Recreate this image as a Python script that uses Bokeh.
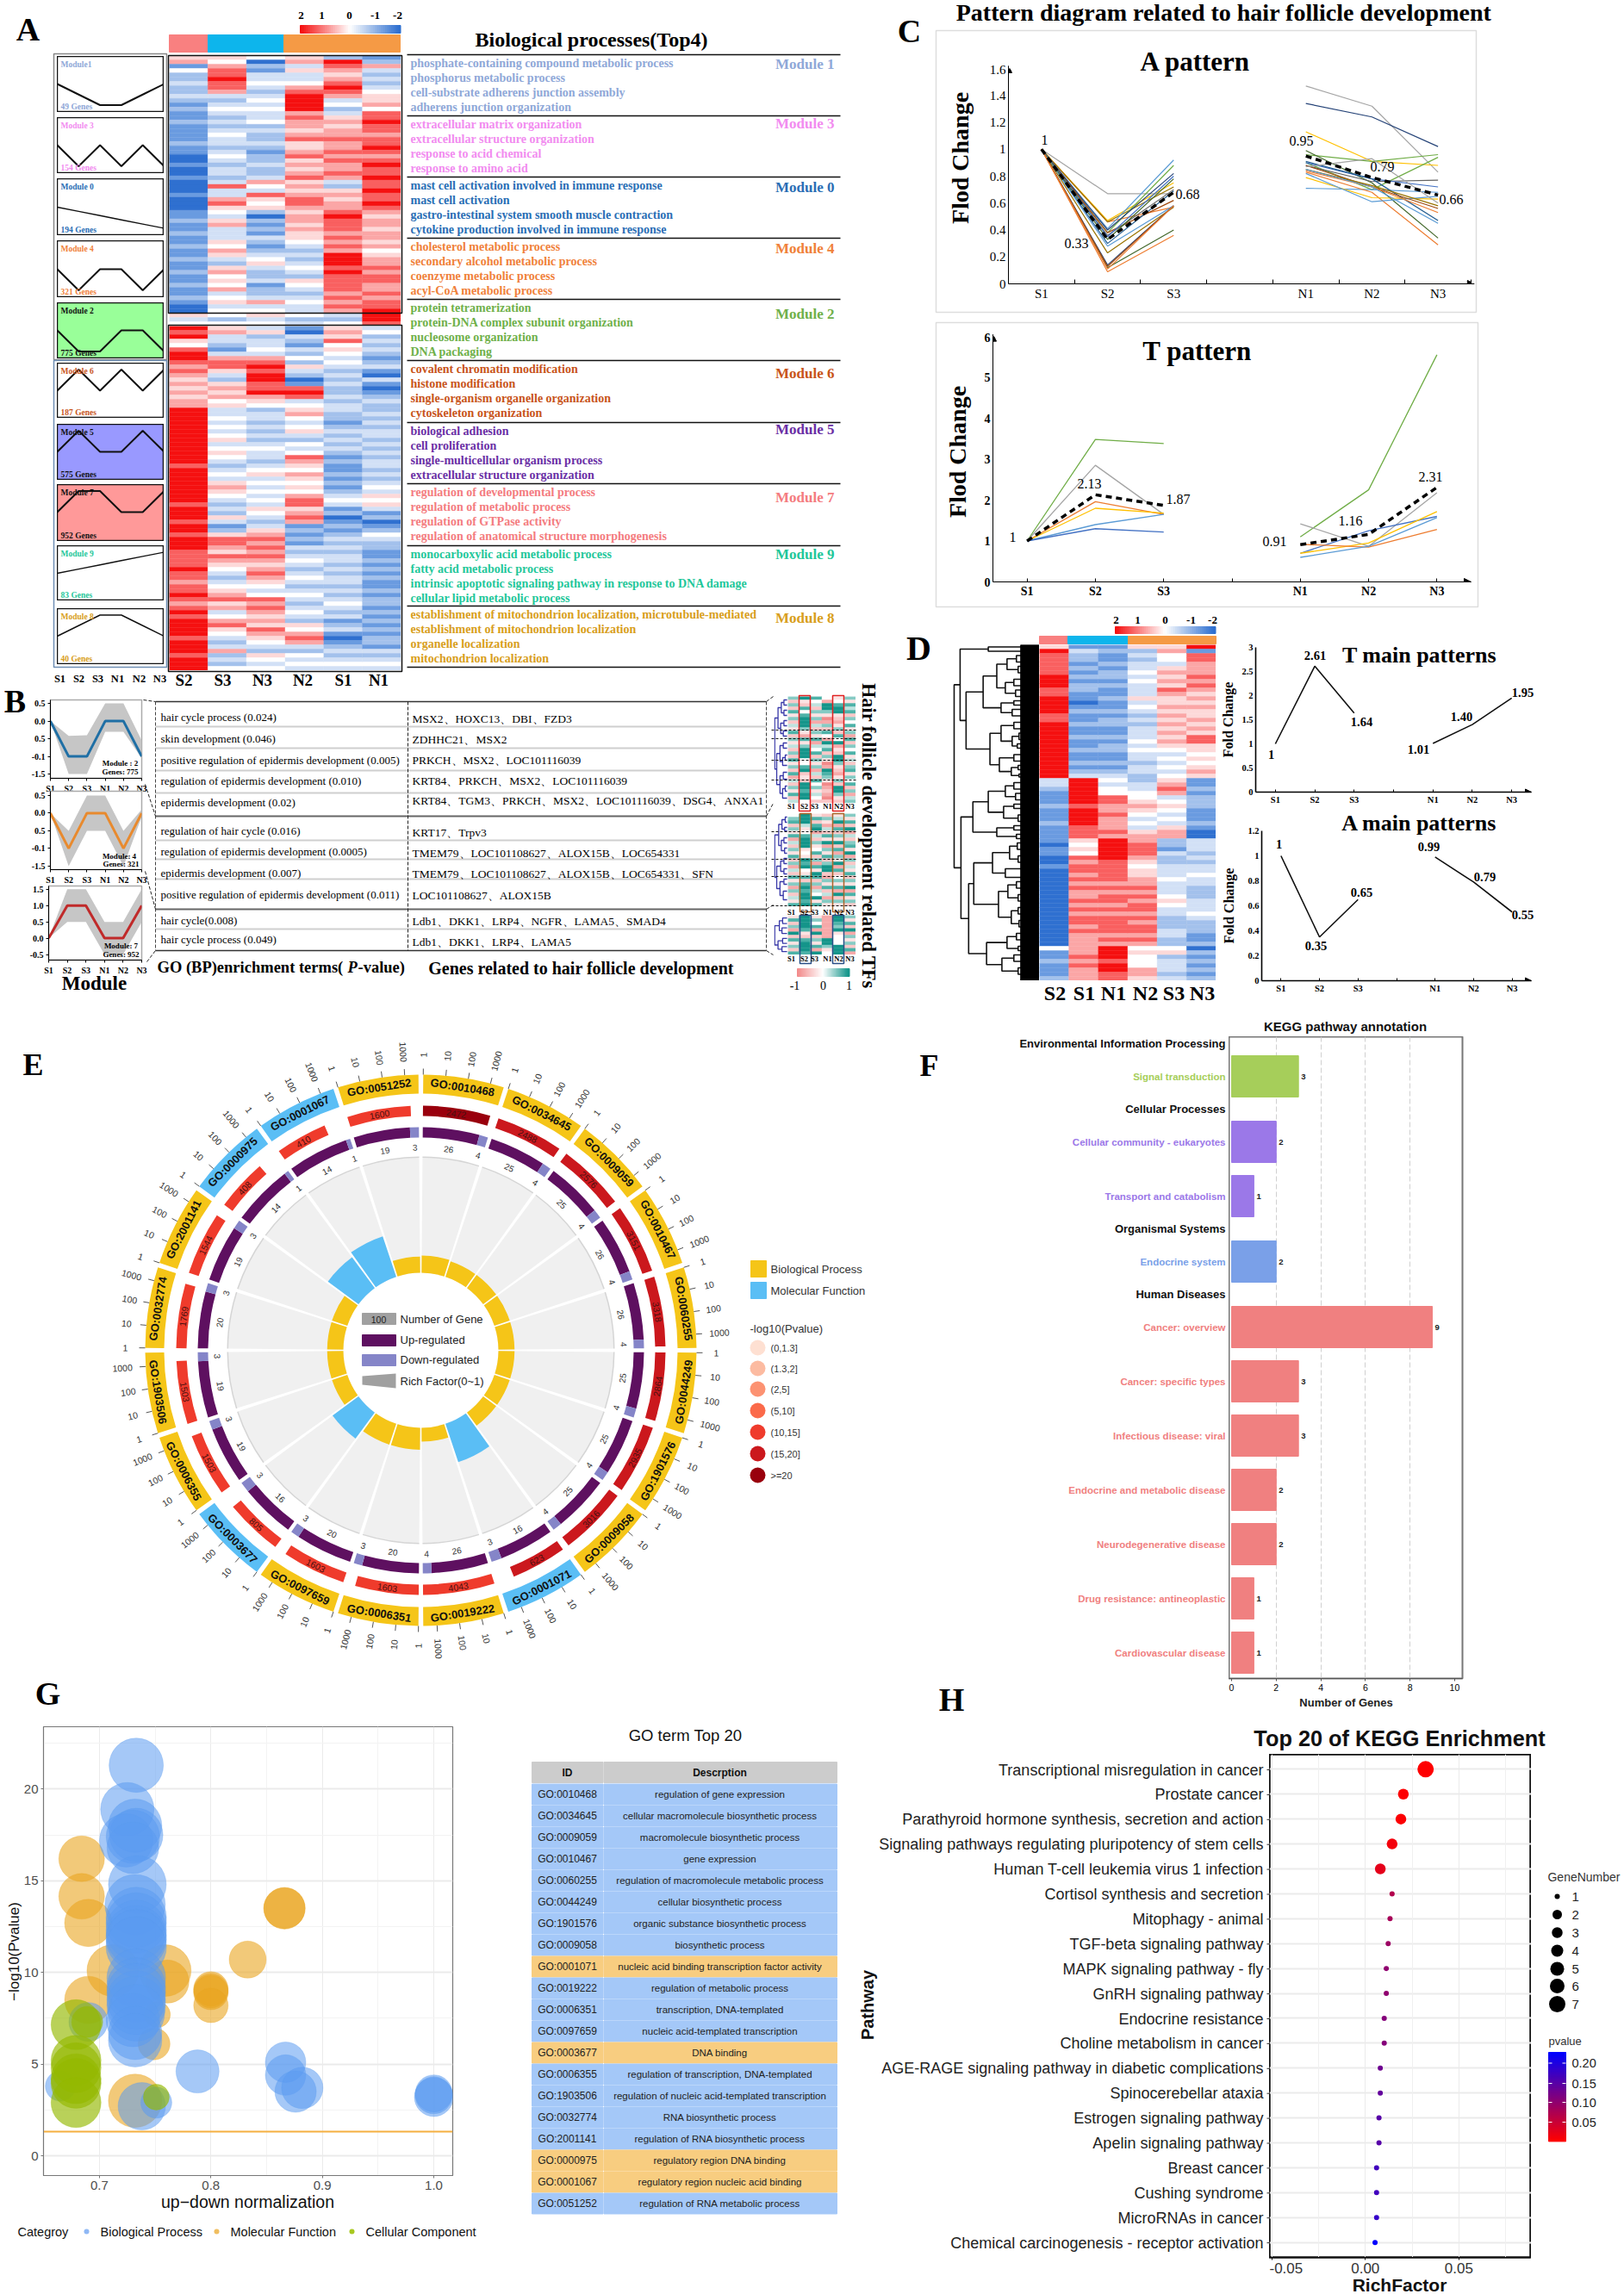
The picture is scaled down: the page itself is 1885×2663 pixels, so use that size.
import math
from bokeh.plotting import figure
from bokeh.models import (Column, LinearAxis, FixedTicker, Grid, Arrow, NormalHead, LinearColorMapper, ColumnDataSource)
from bokeh.embed import file_html
from bokeh.resources import INLINE
from bokeh.core.properties import value

SERIF = "Liberation Serif"
SANS = "Liberation Sans"

# ---------- data: panel A ----------
A_COLS = ["S2", "S3", "N3", "N2", "S1", "N1"]
A_TOP = [
 "561422322321211211112110010010001000112112112112112112112100" + "534",
 "546778776323432323433234323323733675435633354653256454634534" + "424",
 "402133432343433423223212232236437545202121321234532231223634" + "534",
 "563533467888867665675567565675656776566565543232343254323433" + "423",
 "287656787634235656676676766763256566787776767688878777767676" + "324",
 "126323234556477877677876787787787787656656656456676776676778" + "887",
]
A_BOT = [
 "8785478876765656566" + "888888888888878888888" + "8788878878887" + "777877677876787" + "888878887888",
 "56332136775325656453343434534543234356543232531257765765432345675634675432362324",
 "35233436787887786542332323234332345343434354323567676765676543476765657654325434",
 "1032132425320178734" + "5643453243" + "4765465454" + "6775676" + "12121" + "3234323432" + "34323432" + "546763" + "24343",
 "56574543432323223233221232323212112121234312012123232332323323234323123101232343",
 "3423232123103101232232323323232332323435453120124322112121211" + "2122121212122132343",
]
MODULE_IDS = ["1", "3", "0", "4", "2", "6", "5", "7", "9", "8"]
MODULE_GENES = [49, 154, 194, 321, 775, 187, 575, 952, 83, 40]
MODULE_COLORS = ["#8FA8D8", "#F28CF0", "#2A6EB5", "#F0813A", "#6FB04A", "#C8541A", "#6A2FA5", "#F47C80", "#1FC79A", "#D89E20"]
MODULE_PATTERN = [
 [0, -.5, -1, -1, -.5, 0], [0, -1, 0, -1, 0, -1], [0, -.2, -.4, -.6, -.8, -1], [0, -1, 0, 0, -1, 0], [0, -1, -1, 0, 0, -1],
 [0, 1, 0, 1, 0, 1], [0, 1, 0, 0, 1, 0], [0, 1, 1, 0, 0, 1], [0, .2, .4, .6, .8, 1], [0, .5, 1, 1, .5, 0]]
MODULE_TERMS = [
 ["phosphate-containing compound metabolic process", "phosphorus metabolic process", "cell-substrate adherens junction assembly", "adherens junction organization"],
 ["extracellular matrix organization", "extracellular structure organization", "response to acid chemical", "response to amino acid"],
 ["mast cell activation involved in immune response", "mast cell activation", "gastro-intestinal system smooth muscle contraction", "cytokine production involved in immune response"],
 ["cholesterol metabolic process", "secondary alcohol metabolic process", "coenzyme metabolic process", "acyl-CoA metabolic process"],
 ["protein tetramerization", "protein-DNA complex subunit organization", "nucleosome organization", "DNA packaging"],
 ["covalent chromatin modification", "histone modification", "single-organism organelle organization", "cytoskeleton organization"],
 ["biological adhesion", "cell proliferation", "single-multicellular organism process", "extracellular structure organization"],
 ["regulation of developmental process", "regulation of metabolic process", "regulation of GTPase activity", "regulation of anatomical structure morphogenesis"],
 ["monocarboxylic acid metabolic process", "fatty acid metabolic process", "intrinsic apoptotic signaling pathway in response to DNA damage", "cellular lipid metabolic process"],
 ["establishment of mitochondrion localization, microtubule-mediated", "establishment of mitochondrion localization", "organelle localization", "mitochondrion localization"]]

# ---------- data: panel B ----------
TIME = ["S1", "S2", "S3", "N1", "N2", "N3"]
B_MEAN = [[0, -1, -1, 0, 0, -1], [0, -1, 0, 0, -1, 0], [0, 1, 1, 0, 0, 1]]
B_HI = [[0, -.42, -.4, .5, .5, -.55], [0, -.5, .5, .5, -.5, .1], [0, 1.5, 1.5, .5, .5, 1.5]]
B_LO = [[0, -1.5, -1.5, -.3, -.3, -1.05], [0, -1.5, -.5, -.5, -1.5, -.1], [0, .5, .5, -.5, -.5, .5]]
B_COLOR = ["#1F6FA5", "#E88A2E", "#C02A2A"]
B_TERMS = ["hair cycle process (0.024)", "skin development (0.046)", "positive regulation of epidermis development (0.005)",
           "regulation of epidermis development (0.010)", "epidermis development (0.02)", "regulation of hair cycle (0.016)",
           "regulation of epidermis development (0.0005)", "epidermis development (0.007)",
           "positive regulation of epidermis development (0.011)", "hair cycle(0.008)", "hair cycle process (0.049)"]
B_GENES = ["MSX2、HOXC13、DBI、FZD3", "ZDHHC21、MSX2", "PRKCH、MSX2、LOC101116039", "KRT84、PRKCH、MSX2、LOC101116039",
           "KRT84、TGM3、PRKCH、MSX2、LOC101116039、DSG4、ANXA1", "KRT17、Trpv3", "TMEM79、LOC101108627、ALOX15B、LOC654331",
           "TMEM79、LOC101108627、ALOX15B、LOC654331、SFN", "LOC101108627、ALOX15B", "Ldb1、DKK1、LRP4、NGFR、LAMA5、SMAD4", "Ldb1、DKK1、LRP4、LAMA5"]
TF_1 = ["6262736253726352627362715263725", "8327478886317368884478232887884", "7452636152637154726361527463542",
        "4188630162741857263018763012102", "3478832136274813288632136288632", "6375726473617264735267364726156"]
TF_2 = ["467263715263726152736162537", "888534788834387843727878878", "372781526347261738726154837",
        "263152738163726882163725163", "358172638271638172463718263", "637281526738162537263817362"]
TF_3 = ["372618273627", "888873278887", "364718263718", "111111188634", "887683444888", "637281636271"]
TF_TREE1 = (1.0, (.75, (.5, (.3, 1, 2.5), (.3, 4, 5.5)), (.55, (.3, 7, 8.5), (.35, 10, 11.5))),
            (.85, (.6, (.35, 13.5, 15), (.4, (.2, 17, 18.5), 20)), (.6, (.35, 22, 24), (.4, (.2, 26, 27.5), 29.5))))
TF_TREE2 = (1.0, (.7, (.45, (.2, 1, 2.5), (.25, 4, 5)), (.5, (.3, 7, 8.5), (.25, 10, 11.5))),
            (.85, (.55, (.3, 13, 14.5), (.3, 16, 17.5)), (.6, (.3, 19, 20.5), (.35, 22.5, 25))))
TF_TREE3 = (1.0, (.65, (.4, .8, 2.5), (.45, 3.8, 5.5)), (.75, (.4, 7, 8.5), (.45, 9.5, 11)))

# ---------- data: panel C ----------
PAL = {"g": "#A5A5A5", "y": "#FFC000", "o": "#ED7D31", "ol": "#997300", "b": "#5B9BD5", "gr": "#70AD47", "n": "#264478",
       "br": "#9E480E", "dk": "#636363", "bl": "#4472C4", "tb": "#255E91", "dg": "#43682B"}
CA_S = [("g", 1, .67, .67), ("y", 1, .47, .75), ("o", 1, .46, .57), ("ol", 1, .46, .72), ("b", 1, .41, .92), ("gr", 1, .38, .88),
        ("n", 1, .40, .82), ("br", 1, .38, .62), ("dk", 1, .36, .70), ("bl", 1, .35, .80), ("tb", 1, .30, .69), ("dg", 1, .33, .78),
        ("b", 1, .28, .58), ("ol", 1, .23, .57), ("n", 1, .14, .58), ("dg", 1, .12, .40), ("br", 1, .13, .58), ("o", 1, .09, .36), ("o", 1, .11, .58)]
CA_N = [("g", 1.47, 1.32, .83), ("n", 1.34, 1.24, 1.02), ("y", 1.13, .91, .88), ("gr", .96, .91, .96), ("dg", .99, .75, .34),
        ("gr", .90, .70, .94), ("dk", .88, .76, .77), ("b", .71, .70, .68), ("bl", .90, .78, .72), ("tb", .91, .78, .47),
        ("o", .83, .68, .29), ("y", .79, .64, .63), ("b", .82, .61, .65), ("br", .88, .72, .56), ("ol", .85, .73, .58),
        ("g", .87, .93, .60), ("o", .84, .72, .53), ("b", .85, .72, .45)]
CA_MEAN = [[1, .33, .68], [.95, .79, .66]]
CT_S = [("gr", 1, 3.48, 3.38), ("g", 1, 2.85, 1.65), ("o", 1, 1.96, 1.65), ("y", 1, 1.8, 1.68), ("b", 1, 1.4, 1.65), ("bl", 1, 1.3, 1.22)]
CT_N = [("gr", 1.1, 2.25, 5.55), ("g", 1.42, .87, 2.18), ("bl", .7, 1.25, 1.6), ("y", .7, .95, 1.72), ("o", .92, .85, 1.28), ("b", .6, .87, 1.57)]
CT_MEAN = [[1, 2.13, 1.87], [.91, 1.16, 2.31]]

# ---------- data: panel D ----------
D_COLS = ["S2", "S1", "N1", "N2", "S3", "N3"]
D_HEAT = [
 "58" + "77777888778888778888888888888" + "33211121112111" + "1011001000000000000000000" + "41121112",
 "13" + "22121212211012112112112112123" + "88888878888777" + "5454767767676676767767666" + "66767666",
 "12" + "11212212112112122112122112123" + "43447766766676" + "8888877777676776767777676" + "88878877",
 "52" + "32334343335343232333434332332" + "23344565434356" + "6777654556676767767677676" + "45444665",
 "56" + "44356565765565656565654343434" + "56763454343566" + "2213223334333454332223322" + "45233323",
 "81" + "77666767656565565657755454565" + "11212221112100" + "3332323343322233343222112" + "02121212",
]
TREE_D = (1.0,
 (.93, (.6, .5, 1.5),
  (.86,
   (.66, (.5, (.38, (.27, 2.5, 4), (.25, 5, 6.5)), (.4, (.3, 8, 9.5), (.28, 10.5, 12))), (.45, (.3, 13, 14), (.32, 15, 16.5))),
   (.58, (.45, (.3, 18, 19.5), (.32, (.24, 20.5, 22), (.26, 23, 24))), (.47, (.3, 25.5, 27), (.33, (.25, 28, 29), (.24, 30, 30.7)))))),
 (.92,
  (.78, (.6, (.4, (.3, 32, 33.5), (.28, 34.5, 36)), (.42, (.3, 37, 38), (.25, 39.5, 41))), (.5, (.3, 42, 43), (.27, 44, 45))),
  (.83,
   (.77, (.55, (.35, (.26, 46, 47.5), (.25, 49, 50.5)), (.4, 52, 54)),
    (.48, (.37, (.27, 55, 56.5), (.25, 58, 59.5)), (.33, (.25, 61, 62.5), (.24, 64, 65.5)))),
   (.62, (.38, (.27, 67, 68.5), (.25, 70, 71)), (.44, (.3, 72, 73.5), (.25, 75, 76.5))))))
DT_MEAN = [[1, 2.61, 1.64], [1.01, 1.40, 1.95]]
DA_MEAN = [[1, .35, .65], [.99, .79, .55]]

# ---------- data: panel E ----------
GO_IDS = ["GO:0010468", "GO:0034645", "GO:0009059", "GO:0010467", "GO:0060255", "GO:0044249", "GO:1901576", "GO:0009058", "GO:0001071", "GO:0019222",
          "GO:0006351", "GO:0097659", "GO:0003677", "GO:0006355", "GO:1903506", "GO:0032774", "GO:2001141", "GO:0000975", "GO:0001067", "GO:0051252"]
GO_MF = [0, 0, 0, 0, 0, 0, 0, 0, 1, 0, 0, 0, 1, 0, 0, 0, 0, 1, 1, 0]
GO_COUNT = [2472, 2488, 2576, 3151, 3318, 2864, 2935, 3016, 623, 4043, 1603, 1603, 805, 1503, 1503, 1769, 1544, 408, 410, 1600]
GO_PCLASS = [6, 5, 5, 5, 5, 5, 5, 5, 5, 4, 4, 4, 4, 4, 4, 4, 4, 4, 4, 4]
GO_UP = [26, 25, 25, 26, 26, 25, 25, 25, 16, 26, 20, 20, 16, 19, 19, 20, 19, 14, 14, 19]
GO_DOWN = [4, 4, 4, 4, 4, 4, 4, 4, 3, 4, 3, 3, 3, 3, 3, 3, 3, 1, 1, 3]
GO_RICH = [.15, .14, .14, .14, .14, .14, .14, .14, .35, .12, .19, .19, .28, .14, .14, .14, .14, .33, .37, .14]
P_CLASSES = ["(0,1.3]", "(1.3,2]", "(2,5]", "(5,10]", "(10,15]", "(15,20]", ">=20"]
P_COLORS = ["#FEE0D2", "#FCBBA1", "#FC9272", "#FB6A4A", "#EF3B2C", "#CB181D", "#99000D"]

# ---------- data: panel F ----------
F_ROWS = [("Environmental Information Processing", None, 0), ("Signal transduction", 3, 1), ("Cellular Processes", None, 0),
          ("Cellular community - eukaryotes", 2, 2), ("Transport and catabolism", 1, 2), ("Organismal Systems", None, 0),
          ("Endocrine system", 2, 3), ("Human Diseases", None, 0), ("Cancer: overview", 9, 4), ("Cancer: specific types", 3, 4),
          ("Infectious disease: viral", 3, 4), ("Endocrine and metabolic disease", 2, 4), ("Neurodegenerative disease", 2, 4),
          ("Drug resistance: antineoplastic", 1, 4), ("Cardiovascular disease", 1, 4)]
F_COLORS = ["#111111", "#A6CE5A", "#9B78E8", "#7AA0E8", "#F08080"]

# ---------- data: panel G ----------
G_BP = [(.733, 21.3, 63), (.725, 18.9, 62), (.732, 18, 62), (.733, 17.5, 62), (.724, 17.2, 62), (.73, 17.4, 62), (.73, 16.8, 60), (.734, 14.8, 67), (.732, 13.7, 70),
        (.733, 13.0, 70), (.733, 12.7, 70), (.733, 12.3, 70), (.733, 12.0, 70), (.733, 11.8, 70), (.733, 11.4, 70), (.733, 9.7, 68), (.733, 9.2, 68), (.733, 8.9, 68), (.733, 8.5, 68), (.733, 8.2, 68), (.733, 7.8, 66), (.73, 7.4, 62), (.732, 6.7, 62),
        (.732, 6.3, 62), (.69, 7.3, 45), (.665, 3.8, 35), (.788, 4.6, 50), (.867, 5.1, 47), (.867, 4.4, 47), (.876, 3.5, 48), (.882, 3.7, 48),
        (1.0, 3.2, 45), (1.0, 3.4, 43), (1.0, 3.3, 43), (.738, 2.7, 55), (.751, 2.9, 36)]
G_MF = [(.684, 16.2, 53), (.684, 14.15, 53), (.69, 12.7, 55), (.866, 13.5, 48), (.866, 13.5, 48), (.833, 10.7, 43), (.712, 10.1, 60), (.759, 10.1, 60),
        (.761, 9.5, 50), (.69, 8.5, 55), (.8, 9.1, 40), (.8, 9.0, 40), (.8, 8.9, 40), (.8, 8.2, 40), (.752, 7.7, 30), (.749, 6.1, 37), (.732, 3.0, 62)]
G_CC = [(.679, 7.15, 58), (.689, 7.3, 36), (.679, 5.2, 58), (.679, 4.8, 58), (.679, 4.2, 58), (.679, 3.95, 58), (.679, 2.9, 58), (.751, 3.2, 30)]
G_TERMS = ["regulation of gene expression", "cellular macromolecule biosynthetic process", "macromolecule biosynthetic process", "gene expression",
           "regulation of macromolecule metabolic process", "cellular biosynthetic process", "organic substance biosynthetic process", "biosynthetic process",
           "nucleic acid binding transcription factor activity", "regulation of metabolic process", "transcription, DNA-templated", "nucleic acid-templated transcription",
           "DNA binding", "regulation of transcription, DNA-templated", "regulation of nucleic acid-templated transcription", "RNA biosynthetic process",
           "regulation of RNA biosynthetic process", "regulatory region DNA binding", "regulatory region nucleic acid binding", "regulation of RNA metabolic process"]

# ---------- data: panel H ----------
H_NAMES = ["Transcriptional misregulation in cancer", "Prostate cancer", "Parathyroid hormone synthesis, secretion and action",
           "Signaling pathways regulating pluripotency of stem cells", "Human T-cell leukemia virus 1 infection", "Cortisol synthesis and secretion",
           "Mitophagy - animal", "TGF-beta signaling pathway", "MAPK signaling pathway - fly", "GnRH signaling pathway", "Endocrine resistance",
           "Choline metabolism in cancer", "AGE-RAGE signaling pathway in diabetic complications", "Spinocerebellar ataxia", "Estrogen signaling pathway",
           "Apelin signaling pathway", "Breast cancer", "Cushing syndrome", "MicroRNAs in cancer", "Chemical carcinogenesis - receptor activation"]
H_RICH = [.0322, .0203, .019, .0143, .008, .0143, .0132, .0122, .0112, .0112, .0101, .0101, .008, .008, .0073, .0073, .006, .006, .006, .0052]
H_GENES = [7, 3, 3, 3, 3, 1, 1, 1, 1, 1, 1, 1, 1, 1, 1, 1, 1, 1, 1, 1]
H_P = [.003, .004, .005, .012, .025, .07, .08, .09, .1, .1, .11, .11, .13, .14, .15, .15, .17, .17, .18, .225]
H_DIAM = {1: 6, 2: 11, 3: 12.5, 4: 14, 5: 16, 6: 17, 7: 19}

# ---------- helpers ----------
children = []
def chart(x0, y0, x1, y1, xr, yr, pad=(0, 0, 0, 0), bg=None):
    l, t, r, b = pad
    p = figure(width=int(x1 - x0 + l + r), height=int(y1 - y0 + t + b), x_range=xr, y_range=yr, x_axis_type=None, y_axis_type=None,
               toolbar_location=None, output_backend="svg", min_border_left=l, min_border_right=r, min_border_top=t, min_border_bottom=b,
               background_fill_color=bg, border_fill_color=None, outline_line_color=None, frame_align=False,
               styles={"position": "absolute", "left": f"{int(x0 - l)}px", "top": f"{int(y0 - t)}px"})
    children.append(p)
    return p

def axis(p, side, ticks, labels=None, minor=None, size=12, font=SERIF, style="normal", color="#000000", tick_out=4, tick_in=0, minor_out=0, minor_in=0, line="#000000", lw=1):
    ax = LinearAxis(ticker=FixedTicker(ticks=list(ticks), minor_ticks=list(minor or [])), major_label_text_font=font, major_label_text_font_size=f"{size}px",
                    major_label_text_font_style=style, major_label_text_color=color, major_tick_out=tick_out, major_tick_in=tick_in,
                    minor_tick_out=minor_out, minor_tick_in=minor_in, axis_line_color=line, axis_line_width=lw, major_tick_line_color=line,
                    minor_tick_line_color=line, major_label_standoff=3)
    if labels is not None:
        ax.major_label_overrides = {k: v for k, v in zip(ticks, labels)}
    p.add_layout(ax, side)
    return ax

canvas = figure(width=1869, height=2647, x_range=(0, 1869), y_range=(2647, 0), x_axis_type=None, y_axis_type=None, toolbar_location=None,
                output_backend="svg", min_border=0, background_fill_color=None, border_fill_color=None, outline_line_color=None, frame_align=False,
                styles={"position": "absolute", "left": "0px", "top": "0px"})
texts = {}
def T(x, y, s, size=12, color="#000000", font=SERIF, style="normal", align="left", angle=0.0):
    k = (size, color, font, style, align, angle)
    texts.setdefault(k, ([], [], []))
    texts[k][0].append(x); texts[k][1].append(y); texts[k][2].append(s)
def R(x0, y0, x1, y1, fill=None, line=None, lw=1.0):
    canvas.quad(left=[x0], right=[x1], top=[y0], bottom=[y1], fill_color=fill, line_color=line or fill, line_width=lw, fill_alpha=1 if fill else 0)
def L(xs, ys, color="#000000", lw=1.0, dash="solid"):
    canvas.line(xs, ys, line_color=color, line_width=lw, line_dash=dash)
def edge_text(x0, y0, x1, y1, x, y, s, size, color, style="normal"):
    # a text near the page edge, in a strip of its own
    q = chart(x0, y0, x1, y1, (x0, x1), (y1, y0))
    q.text([x], [y], [s], text_font=value(SANS), text_font_size=f"{size}px", text_color=color, text_font_style=style, text_align="center", text_baseline="middle")

HEAT = ["#2F70D0", "#6A9BE0", "#A3C1EC", "#D2E0F6", "#FFFFFF", "#FDD9D9", "#FBA6A6", "#F96060", "#F51010"]
TFC = ["#F28A8A", "#F6AAAA", "#F9C8C8", "#FCE3E3", "#FFFFFF", "#BFE3DF", "#86CBC4", "#4DB2A8", "#14958A"]
def heat(p, cols, pal):
    l, r, t, b, c = [], [], [], [], []
    for i, col in enumerate(cols):
        for j, ch in enumerate(col):
            l.append(i); r.append(i + 1); t.append(j); b.append(j + 1); c.append(pal[int(ch)])
    p.quad(left=l, right=r, top=t, bottom=b, fill_color=c, line_color=c, line_width=0.4)

def tree_segs(node, xs, ys):
    if not isinstance(node, tuple):
        return node, 0.06
    h, a, b = node
    ya, ha = tree_segs(a, xs, ys)
    yb, hb = tree_segs(b, xs, ys)
    xs.append([ha, h, h, hb]); ys.append([ya, ya, yb, yb])
    return (ya + yb) / 2, h

def grad(c1, c2, t):
    a = [int(c1[i:i + 2], 16) for i in (1, 3, 5)]
    b = [int(c2[i:i + 2], 16) for i in (1, 3, 5)]
    return "#%02X%02X%02X" % tuple(int(round(a[k] + (b[k] - a[k]) * t)) for k in range(3))
def hbar_grad(x0, x1, y0, y1, stops, n=48):
    w = (x1 - x0) / n
    for i in range(n):
        t = i / (n - 1) * (len(stops) - 1)
        k = min(int(t), len(stops) - 2)
        R(x0 + i * w, y0, x0 + (i + 1) * w + .5, y1, grad(stops[k], stops[k + 1], t - k))

# ---------- panel letters ----------
for s, x, y, fs in [("A", 32, 33, 38), ("B", 17, 813, 38), ("C", 1055, 35, 38), ("D", 1066, 752, 40), ("E", 38, 1235, 36), ("F", 1078, 1236, 36), ("G", 55, 1965, 38), ("H", 1104, 1972, 38)]:
    T(x, y, s, fs, style="bold", align="center")

# ---------- panel A ----------
hbar_grad(348, 464, 29, 38, ["#F51010", "#FFFFFF", "#2F70D0"])
for s, x in [("2", 349), ("1", 373), ("0", 405), ("-1", 435), ("-2", 461)]:
    T(x, 17, s, 13, style="bold", align="center")
for x0, x1, c in [(196, 241, "#F98080"), (241, 329, "#0DB5EC"), (329, 464, "#F59A45")]:
    R(x0, 40, x1, 60, c)
p = chart(196, 64, 465, 378, (0, 6), (63, 0)); heat(p, A_TOP, HEAT)
p = chart(196, 378, 465, 778, (0, 6), (80, 0)); heat(p, A_BOT, HEAT)
R(195, 64, 466, 363, None, "#111111", 1.5)
R(195, 377, 466, 779, None, "#111111", 1.5)
for s, x in zip(A_COLS, [213, 258, 304, 351, 398, 439]):
    T(x, 789, s, 19, style="bold", align="center")
for s, x in zip(TIME, [69, 91, 113, 136, 161, 185]):
    T(x, 787, s, 12.5, style="bold", align="center")
R(62, 62, 193, 417, None, "#888888", 1.5)
R(62, 418, 193, 774, None, "#6F8FB5", 1.5)
BOX_Y = [(65, 130), (136, 201), (207, 273), (279, 345), (351, 416), (421, 485), (492, 557), (562, 628), (633, 697), (706, 771)]
ZERO_PX = [97, 168, 240, 312, 383, 453, 524, 594, 665, 738]
BOX_BG = {4: "#99FF99", 6: "#9999FF", 7: "#FF9999"}
for i, (y0, y1) in enumerate(BOX_Y):
    u = 24.5
    p = chart(66, y0, 190, y1, (0, 5), ((ZERO_PX[i] - y1) / u, (ZERO_PX[i] - y0) / u), bg=BOX_BG.get(i))
    p.outline_line_color = "#111111"; p.outline_line_width = 1.5
    p.line(list(range(6)), MODULE_PATTERN[i], line_color="#111111", line_width=2 if i in (0, 1, 3, 4, 5, 6, 7) else 1.4)
    tc = "#111111" if i in (4, 6, 7) else MODULE_COLORS[i]
    T(70, y0 + 9, ("Module" if i == 0 else "Module ") + MODULE_IDS[i], 9.5, tc, style="bold")
    T(70, y1 - 7, f"{MODULE_GENES[i]} Genes", 9.5, tc, style="bold")
T(686, 45, "Biological processes(Top4)", 24, style="bold", align="center")
LINE_Y = [63, 134, 205, 276, 347, 418, 490, 561, 633, 703, 774]
LABEL_Y = [74, 143, 217, 288, 364, 433, 498, 577, 643, 717]
for y in LINE_Y:
    L([472, 975], [y, y], "#111111", 1.5)
for i in range(10):
    for k, s in enumerate(MODULE_TERMS[i]):
        T(476, LINE_Y[i] + 10 + 17 * k, s, 14, MODULE_COLORS[i], style="bold")
    T(968, LABEL_Y[i], "Module " + MODULE_IDS[i], 17, MODULE_COLORS[i], style="bold", align="right")

# ---------- panel B ----------
B_FRAME = [(58, 812, 164, 905, (-1.62, .6)), (58, 918, 164, 1011, (-1.6, .62)), (56, 1028, 164, 1116, (-.67, 1.6))]
B_TICK = [([.5, 0, -.5, -1, -1.5], ["0.5", "0.0", "0.5", "-0.1", "-1.5"]), ([.5, 0, -.5, -1, -1.5], ["0.5", "0.0", "0.5", "-0.1", "-1.5"]), ([1.5, 1, .5, 0, -.5], ["1.5", "1.0", "0.5", "0.0", "-0.5"])]
for i, (x0, y0, x1, y1, yr) in enumerate(B_FRAME):
    p = chart(x0, y0, x1, y1, (0, 5), yr, pad=(30, 4, 8, 18))
    p.outline_line_color = "#AAAAAA"; p.outline_line_width = 1.5
    p.varea(list(range(6)), B_LO[i], B_HI[i], fill_color="#C6C6C6")
    p.line(list(range(6)), B_MEAN[i], line_color=B_COLOR[i], line_width=3)
    axis(p, "left", B_TICK[i][0], B_TICK[i][1], size=10, style="bold", tick_out=3)
    axis(p, "below", range(6), TIME, size=10, style="bold", tick_out=3)
for x, y, s in [(139, 885, "Module : 2"), (139, 895, "Genes: 775"), (138, 993, "Module: 4"), (140, 1002, "Genes: 321"), (140, 1097, "Module: 7"), (140, 1107, "Genes: 952")]:
    T(x, y, s, 9, style="bold", align="center")
T(109, 1141, "Module", 23, style="bold", align="center")
L([180, 889], [814, 814], "#333333", 1.5); L([180, 889], [1103, 1103], "#333333", 1.5)
for y in [947, 1055]:
    L([180, 889], [y, y], "#666666", 2)
for y in [843, 868, 894, 920, 975, 997, 1020, 1078]:
    L([180, 889], [y, y], "#CFCFCF", 2)
L([473, 473], [814, 1103], "#222222", 1, "4 2")
L([180, 180], [814, 1103], "#444444", 1, "4 2")
L([889, 889], [814, 1103], "#444444", 1, "4 2")
for xs, ys in [([166, 180], [812, 814]), ([168, 180], [910, 947]), ([168, 180], [1011, 1055]), ([170, 180], [1116, 1103]),
               ([889, 897], [814, 808]), ([889, 897], [947, 932]), ([889, 897], [1055, 1050]), ([889, 897], [1103, 1108])]:
    L(xs, ys, "#222222", 1, "4 2")
for s, y in zip(B_TERMS, [832, 857, 882, 906, 931, 964, 988, 1013, 1038, 1068, 1090]):
    T(186, y, s, 13)
for s, y in zip(B_GENES, [834, 858, 882, 906, 929, 966, 990, 1014, 1039, 1069, 1093]):
    T(478, y, s, 13.5)
T(182, 1122, "GO (BP)enrichment terms(", 18.5, style="bold")
T(403, 1122, "P", 18.5, style="bold italic")
T(415, 1122, "-value)", 18.5, style="bold")
T(674, 1123, "Genes related to hair follicle development", 20, style="bold", align="center")
for cols, tree, y0, y1, lab in [(TF_1, TF_TREE1, 808, 932, 935), (TF_2, TF_TREE2, 944, 1052, 1058), (TF_3, TF_TREE3, 1062, 1108, 1112)]:
    p = chart(914, y0, 993, y1, (0, 6), (len(cols[0]), 0)); heat(p, cols, TFC)
    d = chart(898, y0, 914, y1, (1.05, 0), (len(cols[0]), 0))
    xs, ys = [], []; tree_segs(tree, xs, ys)
    d.multi_line(xs, ys, line_color="#3838A8", line_width=1.3)
    for s, x in zip(TIME, [918, 933, 945, 960, 973, 986]):
        T(x, lab, s, 8.5, style="bold", align="center")
for x0, x1, y0, y1, c in [(927, 940, 807, 941, "#E02020"), (966, 979, 807, 941, "#E02020"), (928, 941, 944, 1058, "#A8662A"), (966, 979, 944, 1058, "#A8662A"),
                          (928, 941, 1062, 1118, "#2A4F86"), (966, 979, 1062, 1118, "#2A4F86")]:
    R(x0, y0, x1, y1, None, c, 1.5)
for y in [847, 857, 882, 905, 965, 997, 1017, 1051]:
    L([895, 993], [y, y], "#111111", 1.2, "3 2")
hbar_grad(925, 985, 1124, 1133, ["#F28A8A", "#FFFFFF", "#14958A"])
for s, x in [("-1", 922), ("0", 955), ("1", 985)]:
    T(x, 1143, s, 14, style="normal", align="center")
T(1008, 970, "Hair follicle development related TFs", 22.3, style="bold", align="center", angle=-math.pi / 2)

# ---------- panel C ----------
T(1420, 14, "Pattern diagram related to hair follicle development", 28, style="bold", align="center")
R(1086, 35, 1713, 362, None, "#DDDDDD", 1.5)
R(1086, 374, 1715, 704, None, "#DDDDDD", 1.5)
p = chart(1170, 79, 1707, 329, (0, 7), (0, 1.6), pad=(45, 4, 8, 30))
for group, xs in [(CA_S, [.5, 1.5, 2.5]), (CA_N, [4.5, 5.5, 6.5])]:
    for c, a, b, d in group:
        p.line(xs, [a, b, d], line_color=PAL[c], line_width=1.2)
for xs, ys in zip([[.5, 1.5, 2.5], [4.5, 5.5, 6.5]], CA_MEAN):
    p.line(xs, ys, line_color="#000000", line_width=3.5, line_dash="7 5")
axis(p, "left", [0, .2, .4, .6, .8, 1, 1.2, 1.4, 1.6], ["0", "0.2", "0.4", "0.6", "0.8", "1", "1.2", "1.4", "1.6"], size=15, tick_out=0)
axis(p, "below", [.5, 1.5, 2.5, 4.5, 5.5, 6.5], TIME, minor=range(1, 8), size=15, tick_out=0, minor_in=5)
p.add_layout(Arrow(end=NormalHead(size=8, fill_color="black", line_color="black"), x_start=0, y_start=1.5, x_end=0, y_end=1.62, line_color="black"))
p.add_layout(Arrow(end=NormalHead(size=8, fill_color="black", line_color="black"), x_start=6.9, y_start=0, x_end=7.05, y_end=0, line_color="black"))
p = chart(1152, 390, 1707, 675, (.5, 7.5), (0, 6), pad=(40, 4, 8, 30))
for group, xs in [(CT_S, [1, 2, 3]), (CT_N, [5, 6, 7])]:
    for c, a, b, d in group:
        p.line(xs, [a, b, d], line_color=PAL[c], line_width=1.3)
for xs, ys in zip([[1, 2, 3], [5, 6, 7]], CT_MEAN):
    p.line(xs, ys, line_color="#000000", line_width=3.5, line_dash="7 5")
axis(p, "left", range(7), [str(k) for k in range(7)], size=14, style="bold", tick_out=0)
axis(p, "below", [1, 2, 3, 5, 6, 7], TIME, minor=[4], size=14, style="bold", tick_out=0, tick_in=4, minor_in=4)
p.add_layout(Arrow(end=NormalHead(size=8, fill_color="black", line_color="black"), x_start=.5, y_start=5.8, x_end=.5, y_end=6.05, line_color="black"))
p.add_layout(Arrow(end=NormalHead(size=8, fill_color="black", line_color="black"), x_start=7.3, y_start=0, x_end=7.5, y_end=0, line_color="black"))
T(1391, 71, "A  pattern", 31, style="bold", align="center")
T(1393, 407, "T  pattern", 31, style="bold", align="center")
T(1114, 183, "Flod Change", 28, style="bold", align="center", angle=math.pi / 2)
T(1111, 524, "Flod Change", 28, style="bold", align="center", angle=math.pi / 2)
for s, x, y in [("1", 1212, 162), ("0.33", 1249, 282), ("0.68", 1378, 225), ("0.95", 1510, 163), ("0.79", 1604, 193), ("0.66", 1684, 231),
                ("1", 1175, 623), ("2.13", 1264, 561), ("1.87", 1367, 579), ("0.91", 1479, 628), ("1.16", 1567, 604), ("2.31", 1660, 553)]:
    T(x, y, s, 16, align="center")

# ---------- panel D ----------
hbar_grad(1294, 1410, 727, 735, ["#F51010", "#FFFFFF", "#2F70D0"])
for s, x in [("2", 1295), ("1", 1320), ("0", 1352), ("-1", 1382), ("-2", 1407)]:
    T(x, 719, s, 13, style="bold", align="center")
for x0, x1, c in [(1206, 1239, "#F98080"), (1239, 1309, "#0DB5EC"), (1309, 1411, "#F59A45")]:
    R(x0, 738, x1, 747, c)
p = chart(1206, 748, 1411, 1138, (0, 6), (78, 0)); heat(p, D_HEAT, HEAT)
d = chart(1105, 748, 1206, 1138, (1.02, 0), (78, 0))
xs, ys = [], []; tree_segs(TREE_D, xs, ys)
d.multi_line(xs, ys, line_color="#111111", line_width=1.6)
d.quad(left=[.22], right=[0], top=[0], bottom=[78], fill_color="#000000", line_color="#000000")
for s, x in zip(D_COLS, [1224, 1258, 1292, 1329, 1362, 1395]):
    T(x, 1152, s, 24, style="bold", align="center")
for yr, frame, ser, yt, ylab, zero in [((0, 3), (1457, 751, 1777, 919), DT_MEAN, [0, .5, 1, 1.5, 2, 2.5, 3], ["0", "0.5", "1", "1.5", "2", "2.5", "3"], None),
                                       ((0, 1.2), (1464, 964, 1777, 1138), DA_MEAN, [0, .2, .4, .6, .8, 1, 1.2], ["0", "0.2", "0.4", "0.6", "0.8", "1", "1.2"], None)]:
    x0, y0, x1, y1 = frame
    p = chart(x0, y0, x1, y1, (.5, 7.5), yr, pad=(30, 4, 8, 24))
    p.line([1, 2, 3], ser[0], line_color="#111111", line_width=1.6)
    p.line([5, 6, 7], ser[1], line_color="#111111", line_width=1.6)
    axis(p, "left", yt, ylab, size=10.5, style="bold", tick_out=0, lw=1.6, tick_in=0)
    axis(p, "below", [1, 2, 3, 5, 6, 7], TIME, minor=[4], size=10.5, style="bold", tick_out=0, tick_in=3, minor_in=3, lw=1.6)
    p.add_layout(Arrow(end=NormalHead(size=7, fill_color="black", line_color="black"), x_start=7.4, y_start=0, x_end=7.5, y_end=0, line_color="black"))
T(1647, 760, "T main patterns", 26, style="bold", align="center")
T(1647, 955, "A main patterns", 26, style="bold", align="center")
T(1425, 833, "Fold  Change", 16, style="bold", align="center", angle=math.pi / 2)
T(1426, 1049, "Fold  Change", 16, style="bold", align="center", angle=math.pi / 2)
for s, x, y in [("2.61", 1526, 760), ("1", 1475, 875), ("1.64", 1580, 837), ("1.01", 1646, 869), ("1.40", 1696, 831), ("1.95", 1767, 803),
                ("1", 1484, 979), ("0.35", 1527, 1097), ("0.65", 1580, 1035), ("0.99", 1658, 982), ("0.79", 1723, 1017), ("0.55", 1767, 1061)]:
    T(x, y, s, 14.5, align="center", style="bold")

# ---------- panel E ----------
E = chart(118, 1197, 858, 1937, (-370, 370), (-370, 370))
ang = lambda a: math.radians(90 - a)
N = len(GO_IDS)
A0 = [i * 18 + .5 for i in range(N)]; A1 = [(i + 1) * 18 - .5 for i in range(N)]
E.annular_wedge(0, 0, 90, 224, [ang(a) for a in A0], [ang(a) for a in A1], direction="clock", fill_color="#F0F0F0", line_color=None)
E.annular_wedge(0, 0, 223.5, 225, [ang(a) for a in A0], [ang(a) for a in A1], direction="clock", fill_color="#D5D5D5", line_color=None)
go_col = ["#5ABEF5" if m else "#F5C518" for m in GO_MF]
E.annular_wedge(0, 0, 298, 320, [ang(a) for a in A0], [ang(a) for a in A1], direction="clock", fill_color=go_col, line_color=None)
E.annular_wedge(0, 0, 90, [90 + 134 * r for r in GO_RICH], [ang(a) for a in A0], [ang(a) for a in A1], direction="clock", fill_color=go_col, line_color=None)
DEC = 3.61
red_end = [a + math.log10(v) / DEC * 17 for a, v in zip(A0, GO_COUNT)]
E.annular_wedge(0, 0, 272, 284, [ang(a) for a in A0], [ang(a) for a in red_end], direction="clock", fill_color=[P_COLORS[c] for c in GO_PCLASS], line_color=None)
up_end = [a + 17 * u / (u + d) for a, u, d in zip(A0, GO_UP, GO_DOWN)]
E.annular_wedge(0, 0, 247, 259, [ang(a) for a in A0], [ang(a) for a in up_end], direction="clock", fill_color="#5E1060", line_color=None)
E.annular_wedge(0, 0, 247, 259, [ang(a) for a in up_end], [ang(a) for a in A1], direction="clock", fill_color="#8585C8", line_color=None)
def tangent(a):
    return math.radians(180 - a) if 90 < a < 270 else math.radians(-a)
def radial(a):
    return math.radians(90 - a) if a < 180 else math.radians(270 - a)
def pol(r, a):
    return r * math.sin(math.radians(a)), r * math.cos(math.radians(a))
def Etext(r, a, s, size, color="#111111", style="normal", angle=0.0):
    x, y = pol(r, a)
    E.text([x], [y], [s], text_font=value(SANS), text_font_size=f"{size}px", text_color=color, text_font_style=style, text_align="center", text_baseline="middle", angle=angle)
for i in range(N):
    Etext(309, (A0[i] + A1[i]) / 2, GO_IDS[i], 13, style="bold", angle=tangent((A0[i] + A1[i]) / 2))
    am = (A0[i] + red_end[i]) / 2
    Etext(278, am, str(GO_COUNT[i]), 10.5, "#4A1010", angle=tangent(am))
    au = (A0[i] + up_end[i]) / 2; ad = (up_end[i] + A1[i]) / 2
    Etext(236, au, str(GO_UP[i]), 10, "#333333", angle=tangent(au))
    Etext(236, ad, str(GO_DOWN[i]), 10, "#333333", angle=tangent(ad))
    for k, s in enumerate(["1", "10", "100", "1000"]):
        a = A0[i] + k / DEC * 17
        x1, y1 = pol(320, a); x2, y2 = pol(327, a)
        E.line([x1, x2], [y1, y2], line_color="#555555", line_width=1)
        Etext(343 if k < 3 else 347, a, s, 10.5, "#333333", angle=radial(a))
R(871, 1463, 889, 1482, "#F5C518"); R(871, 1488, 889, 1507, "#5ABEF5")
T(894, 1473, "Biological Process", 13, "#333333", SANS); T(894, 1498, "Molecular Function", 13, "#333333", SANS)
T(870, 1542, "-log10(Pvalue)", 13, "#333333", SANS)
for y, s, c in zip([1564, 1588, 1612, 1637, 1662, 1687, 1712], P_CLASSES, P_COLORS):
    canvas.scatter([879], [y], size=18, fill_color=c, line_color=None)
    T(894, y, s, 11, "#333333", SANS)
R(420, 1524, 459, 1537, "#A0A0A0"); T(439, 1531, "100", 10.5, "#222222", SANS, align="center")
R(420, 1549, 459, 1562, "#5E1060"); R(420, 1572, 459, 1585, "#8585C8")
canvas.patch([420, 459, 459, 420], [1597, 1594, 1611, 1607], fill_color="#A0A0A0", line_color=None)
for s, y in [("Number of Gene", 1531), ("Up-regulated", 1555), ("Down-regulated", 1578), ("Rich Factor(0~1)", 1603)]:
    T(464, y, s, 13, "#222222", SANS)

# ---------- panel F ----------
F = chart(1426, 1203, 1697, 1948, (-.116, 10.35), (737, -8), pad=(0, 0, 4, 24))
F.outline_line_color = "#777777"; F.outline_line_width = 2
fa = axis(F, "below", [0, 2, 4, 6, 8, 10], ["0", "2", "4", "6", "8", "10"], size=10.5, font=SANS, tick_out=3, line="#555555")
F.add_layout(Grid(dimension=0, ticker=FixedTicker(ticks=[2, 4, 6, 8]), grid_line_color="#D0D0D0", grid_line_dash="6 3"))
yy = 0; prev_is_bar = False; prev_cls = None
f_y, f_v, f_c = [], [], []
for name, v, cls in F_ROWS:
    if prev_cls is not None:
        yy += 63 if (v is not None and prev_is_bar) else 38
    if v is not None:
        f_y.append(yy); f_v.append(v); f_c.append(F_COLORS[cls])
        T(1422, 1211 + yy, name, 11.5, F_COLORS[cls], SANS, "bold", "right")
    else:
        T(1422, 1211 + yy, name, 13, "#111111", SANS, "bold", "right")
    prev_is_bar = v is not None; prev_cls = cls
F.hbar(y=f_y, right=f_v, left=0, height=48, fill_color=f_c, line_color=f_c)
F.text(x=[a + .22 for a in f_v], y=f_y, text=[str(a) for a in f_v], text_font=value(SANS), text_font_size="9.5px", text_font_style="bold", text_baseline="middle", text_color="#222222", text_align="center")
T(1561, 1191, "KEGG pathway annotation", 15, "#111111", SANS, "bold", "center")
T(1562, 1976, "Number of Genes", 13, "#222222", SANS, "bold", "center")

# ---------- panel G ----------
G = chart(50, 2004, 525, 2525, (.6498, 1.017), (-1.08, 23.4), pad=(30, 0, 6, 28))
G.outline_line_color = "#777777"; G.outline_line_width = 1.2
gx = axis(G, "below", [.7, .8, .9, 1.0], ["0.7", "0.8", "0.9", "1.0"], size=15, font=SANS, color="#4D4D4D", tick_out=3, line="#777777")
gy = axis(G, "left", [0, 5, 10, 15, 20], ["0", "5", "10", "15", "20"], size=15, font=SANS, color="#4D4D4D", tick_out=3, line="#777777")
G.add_layout(Grid(dimension=0, ticker=FixedTicker(ticks=[.7, .8, .9, 1.0], minor_ticks=[.75, .85, .95]), grid_line_color="#EBEBEB", minor_grid_line_color="#F3F3F3"))
G.add_layout(Grid(dimension=1, ticker=FixedTicker(ticks=[0, 5, 10, 15, 20], minor_ticks=[2.5, 7.5, 12.5, 17.5, 22.5]), grid_line_color="#EBEBEB", grid_line_width=2, minor_grid_line_color="#F3F3F3"))
for pts, c, al in [(G_MF, "#EAA520", .6), (G_BP, "#5B9BF0", .55), (G_CC, "#94B800", .65)]:
    G.scatter([q[0] for q in pts], [q[1] for q in pts], size=[q[2] for q in pts], fill_color=c, fill_alpha=al, line_color=c, line_alpha=.3)
G.line([.6498, 1.017], [1.32, 1.32], line_color="#F5B041", line_width=2)
T(287, 2555, "up−down normalization", 19.5, "#111111", SANS, align="center")
T(16, 2265, "−log10(Pvalue)", 17, "#111111", SANS, align="center", angle=math.pi / 2)
T(20, 2590, "Categroy", 14.5, "#111111", SANS)
for x, c, s in [(100, "#8FB8F5", "Biological Process"), (251, "#F0BE60", "Molecular Function"), (408, "#A8C820", "Cellular Component")]:
    canvas.scatter([x], [2590], size=6, fill_color=c, line_color=None)
    T(x + 16, 2590, s, 14.5, "#111111", SANS)
T(795, 2014, "GO term Top 20", 18.5, "#111111", SANS, align="center")
R(617, 2045, 699.5, 2069, "#CCCCCC"); R(700.5, 2045, 971, 2069, "#CCCCCC")
T(658, 2057, "ID", 12, "#111111", SANS, "bold", "center"); T(835, 2057, "Descrption", 12, "#111111", SANS, "bold", "center")
for i, s in enumerate(G_TERMS):
    y0 = 2070.5 + i * 25
    c = "#F8CD80" if GO_MF[i] else "#A4C8F8"
    R(617, y0, 699.5, y0 + 24, c); R(700.5, y0, 971, y0 + 24, c)
    T(658, y0 + 12, GO_IDS[i], 12, "#222222", SANS, align="center")
    T(835, y0 + 12, s, 11.5, "#222222", SANS, align="center")

# ---------- panel H ----------
H = chart(1473, 2036, 1777, 2620, (-.0512, .0887), (19.6, -.6), pad=(0, 0, 0, 26))
H.outline_line_color = "#111111"; H.outline_line_width = 2.5
axis(H, "below", [-.05, 0, .05], ["-0.05", "0.00", "0.05"], size=17, font=SANS, color="#333333", tick_out=3, line="#111111")
H.add_layout(Grid(dimension=1, ticker=FixedTicker(ticks=list(range(20))), grid_line_color="#EBEBEB", grid_line_width=2))
H.add_layout(Grid(dimension=0, ticker=FixedTicker(ticks=[-.05, 0, .05], minor_ticks=[-.025, .025, .075]), grid_line_color="#EBEBEB", minor_grid_line_color="#F0F0F0"))
H_PAL = [grad("#FF0000", "#0000FF", t / 255) for t in range(256)]
mapper = LinearColorMapper(palette=H_PAL, low=.002, high=.2274)
src = ColumnDataSource(dict(x=H_RICH, y=list(range(20)), p=H_P, d=[H_DIAM[g] for g in H_GENES]))
H.scatter("x", "y", source=src, size="d", fill_color={"field": "p", "transform": mapper}, line_color=None)
for i, s in enumerate(H_NAMES):
    T(1466, 2054 + i * 28.9, s, 18, "#222222", SANS, align="right")
    L([1470, 1473], [2054 + i * 28.9] * 2, "#333333", 1)
T(1624, 2017, "Top 20 of KEGG Enrichment", 25.3, "#111111", SANS, "bold", "center")
edge_text(1555, 2640, 1695, 2663, 1624, 2652, "RichFactor", 21, "#111111", "bold")
T(1006, 2327, "Pathway", 20, "#111111", SANS, "bold", "center", math.pi / 2)
edge_text(1790, 2167, 1885, 2189, 1838, 2178, "GeneNumber", 14, "#333333")
for g, y in zip(range(1, 8), [2201, 2222, 2243, 2264, 2285, 2305, 2326]):
    canvas.scatter([1807], [y], size=H_DIAM[g], fill_color="#000000", line_color=None)
    T(1824, y, str(g), 15, "#222222", SANS)
T(1797, 2369, "pvalue", 13, "#333333", SANS)
for i in range(64):
    R(1797, 2382 + i * 103 / 64, 1817, 2382 + (i + 1) * 103 / 64 + .4, H_PAL[255 - i * 4])
for s, y in [("0.20", 2394.5), ("0.15", 2418), ("0.10", 2440), ("0.05", 2463)]:
    T(1824, y, s, 14.5, "#222222", SANS)
    L([1797, 1801], [y, y], "#FFFFFF", 1); L([1813, 1817], [y, y], "#FFFFFF", 1)

# ---------- flush text, top canvas ----------
for (size, color, font, style, align, angle), (xs, ys, ss) in texts.items():
    canvas.text(xs, ys, ss, text_font=value(font), text_font_size=f"{size}px", text_color=color, text_font_style=style, text_align=align, text_baseline="middle", angle=angle)
children.append(canvas)

root = Column(children=children, width=1869, height=2647, sizing_mode="fixed")
open("out.html", "w").write(file_html(root, INLINE))
